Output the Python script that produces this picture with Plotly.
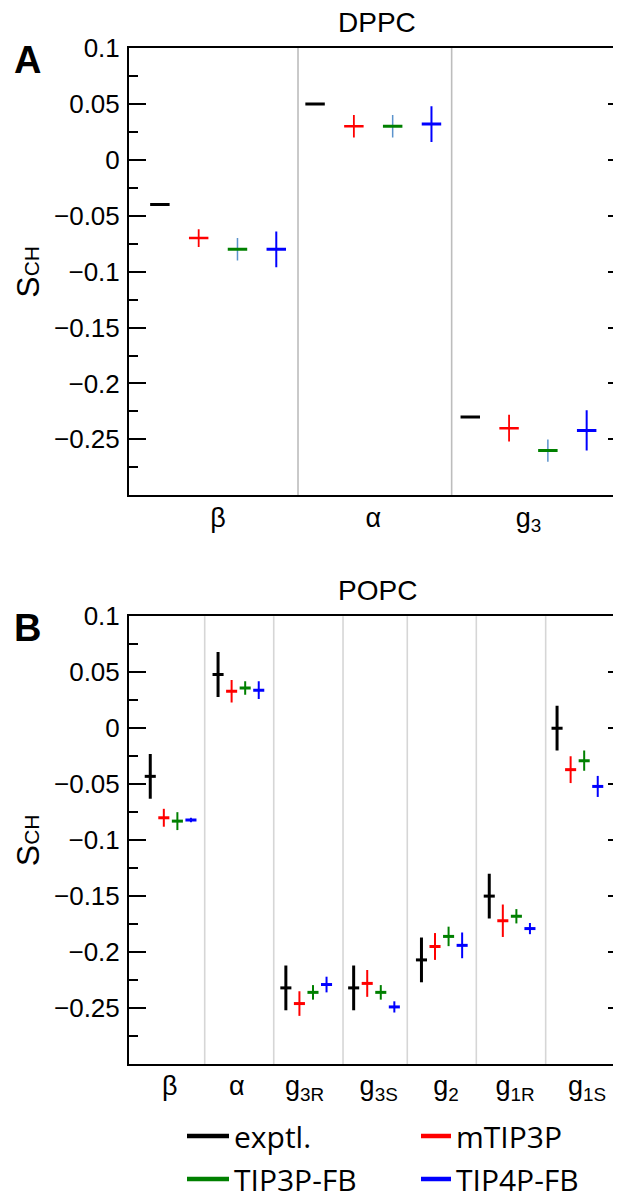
import plotly.graph_objects as go

# ---------------- data ----------------
series_names = ["exptl.", "mTIP3P", "TIP3P-FB", "TIP4P-FB"]
series_colors = ["#000000", "#ff0000", "#008000", "#0000ff"]

# Panel A: DPPC
cats_A = ["β", "α", "g<sub>3</sub>"]
exptl_A = [-0.040, 0.050, -0.230]
mtip3p_A = [-0.070, 0.030, -0.240]
mtip3p_A_err = [0.008, 0.010, 0.012]
tip3pfb_A = [-0.080, 0.030, -0.260]
tip3pfb_A_err = [0.010, 0.010, 0.010]
tip4pfb_A = [-0.080, 0.032, -0.242]
tip4pfb_A_err = [0.016, 0.016, 0.018]

# Panel B: POPC
cats_B = ["β", "α", "g<sub>3R</sub>", "g<sub>3S</sub>", "g<sub>2</sub>", "g<sub>1R</sub>", "g<sub>1S</sub>"]
exptl_B = [-0.043, 0.048, -0.232, -0.232, -0.207, -0.150, 0.000]
exptl_B_err = [0.020, 0.020, 0.020, 0.020, 0.020, 0.020, 0.020]
mtip3p_B = [-0.080, 0.033, -0.246, -0.228, -0.195, -0.172, -0.037]
mtip3p_B_err = [0.008, 0.010, 0.011, 0.012, 0.012, 0.0145, 0.012]
tip3pfb_B = [-0.083, 0.036, -0.236, -0.236, -0.186, -0.168, -0.029]
tip3pfb_B_err = [0.008, 0.006, 0.0065, 0.0065, 0.0087, 0.0064, 0.009]
tip4pfb_B = [-0.082, 0.034, -0.229, -0.249, -0.194, -0.179, -0.052]
tip4pfb_B_err = [0.002, 0.008, 0.007, 0.005, 0.0115, 0.005, 0.0094]

y_tickvals = [0.1, 0.05, 0, -0.05, -0.1, -0.15, -0.2, -0.25]
y_ticktext = ["0.1", "0.05", "0", "−0.05", "−0.1", "−0.15", "−0.2", "−0.25"]
y_minorvals = [0.075, 0.025, -0.025, -0.075, -0.125, -0.175, -0.225, -0.275]

# ---------------- layout helpers ----------------
slotsA = [0.125, 0.375, 0.625, 0.875]
slotsB = [0.2, 0.4, 0.6, 0.8]
sepA = [1.015, 2.005]
sepB = [1.003, 2.021, 3.043, 3.991, 5.009, 6.032]
labelposB = [0.487, 1.478, 2.476, 3.569, 4.562, 5.580, 6.642]

FONT = "Liberation Sans, Arial, sans-serif"
LEG_FONT = "Open Sans, sans-serif"

fig = go.Figure()


def add_series(xaxis, yaxis, idx, slot, vals, errs, color, size, lw, ethick, ecolor=None):
    xs = [i + slot for i in range(len(vals))]
    err = dict(visible=False)
    if errs is not None:
        err = dict(type="data", array=errs, visible=True, width=0,
                   thickness=ethick, color=ecolor or color)
    fig.add_trace(go.Scatter(
        x=xs, y=vals, mode="markers", xaxis=xaxis, yaxis=yaxis,
        marker=dict(symbol="line-ew", size=size, color=color,
                    line=dict(color=color, width=lw)),
        error_y=err, showlegend=False, hoverinfo="skip", name=series_names[idx]))


# Panel A
add_series("x", "y", 0, slotsA[0], exptl_A, None, series_colors[0], 13.9, 3, 2)
add_series("x", "y", 1, slotsA[1], mtip3p_A, mtip3p_A_err, series_colors[1], 13.9, 2.5, 1.8)
add_series("x", "y", 2, slotsA[2], tip3pfb_A, tip3pfb_A_err, series_colors[2], 13.9, 3, 1.5, "#5b93cc")
add_series("x", "y", 3, slotsA[3], tip4pfb_A, tip4pfb_A_err, series_colors[3], 13.9, 3, 2)

# Panel B
add_series("x2", "y2", 0, slotsB[0], exptl_B, exptl_B_err, series_colors[0], 7.9, 3, 3)
add_series("x2", "y2", 1, slotsB[1], mtip3p_B, mtip3p_B_err, series_colors[1], 7.9, 3, 2)
add_series("x2", "y2", 2, slotsB[2], tip3pfb_B, tip3pfb_B_err, series_colors[2], 7.9, 3, 2)
add_series("x2", "y2", 3, slotsB[3], tip4pfb_B, tip4pfb_B_err, series_colors[3], 7.9, 3, 2)

# legend-only traces (one legend box per entry for exact placement)
legend_ids = ["legend", "legend2", "legend3", "legend4"]
for k in range(4):
    fig.add_trace(go.Scatter(
        x=[None], y=[None], mode="lines", name=series_names[k],
        line=dict(color=series_colors[k], width=4.5),
        legend=legend_ids[k], showlegend=True, xaxis="x2", yaxis="y2"))

W, H = 621, 1200
ML, MR, MT, MB = 121, 4, 40, 144
PW = W - ML - MR
PH = H - MT - MB


def px_to_paper_x(px):
    return (px - ML) / PW


def py_to_paper_y(py):
    return (H - MB - py) / PH


yA = [py_to_paper_y(487.3), 1.0]
yB = [0.0, py_to_paper_y(608.3)]

yaxis_common = dict(
    range=[-0.3, 0.1], tickmode="array", tickvals=y_tickvals, ticktext=y_ticktext,
    ticks="inside", ticklen=17, tickwidth=2, tickcolor="black",
    showline=True, linewidth=2, linecolor="black", mirror="ticks",
    showgrid=False, zeroline=False,
    tickfont=dict(family=FONT, size=26, color="black"),
    ticklabelstandoff=2,
    minor=dict(tickmode="array", tickvals=y_minorvals, ticks="inside", ticklen=8.5,
               tickwidth=2, tickcolor="black", showgrid=False),
)
xaxis_common = dict(
    showline=True, linewidth=2, linecolor="black", mirror=True,
    showgrid=False, zeroline=False, ticks="", tickmode="array",
    tickfont=dict(family=FONT, size=27, color="black"),
    ticklabelstandoff=-3,
)

fig.update_layout(
    width=W, height=H,
    margin=dict(l=ML, r=MR, t=MT, b=MB, pad=0, autoexpand=False),
    paper_bgcolor="white", plot_bgcolor="white",
    font=dict(family=FONT, color="black"),
    xaxis=dict(xaxis_common, domain=[0, 1], anchor="y", range=[-0.074, 3.122],
               tickvals=[i + 0.5 for i in range(len(cats_A))], ticktext=cats_A),
    yaxis=dict(yaxis_common, domain=yA, anchor="x"),
    xaxis2=dict(xaxis_common, domain=[0, 1], anchor="y2", range=[-0.1136, 7.202],
                tickvals=labelposB, ticktext=cats_B),
    yaxis2=dict(yaxis_common, domain=yB, anchor="x2"),
)

# separators
shapes = []
for s in sepA:
    shapes.append(dict(type="line", xref="x", yref="y domain", x0=s, x1=s, y0=0, y1=1,
                       line=dict(color="#bdbdbd", width=1.6), layer="below"))
for s in sepB:
    shapes.append(dict(type="line", xref="x2", yref="y2 domain", x0=s, x1=s, y0=0, y1=1,
                       line=dict(color="#d6d6d6", width=1.6), layer="below"))
fig.update_layout(shapes=shapes)

# legends
leg_font = dict(family=LEG_FONT, size=30, color="black")
leg_pos = [(174, 1128), (408, 1128), (174, 1171), (408, 1171)]
for k, lid in enumerate(legend_ids):
    px, py = leg_pos[k]
    fig.update_layout({lid: dict(
        x=px_to_paper_x(px), y=py_to_paper_y(py), xref="paper", yref="paper",
        xanchor="left", yanchor="middle", orientation="h",
        font=leg_font, bgcolor="rgba(0,0,0,0)", borderwidth=0,
        itemwidth=42 if k in (0, 2) else 30, tracegroupgap=0)})

# annotations: titles, panel letters, axis titles
ann = []
ann.append(dict(text="DPPC", xref="x domain", yref="y domain", x=0.5, y=1,
                yshift=26, showarrow=False, xanchor="center", yanchor="middle",
                font=dict(family=FONT, size=28, color="black")))
ann.append(dict(text="POPC", xref="x2 domain", yref="y2 domain", x=0.5, y=1,
                yshift=26, showarrow=False, xanchor="center", yanchor="middle",
                font=dict(family=FONT, size=28, color="black")))
ann.append(dict(text="<b>A</b>", xref="paper", yref="paper",
                x=px_to_paper_x(19), y=py_to_paper_y(52), showarrow=False,
                xanchor="center", yanchor="middle",
                font=dict(family=FONT, size=38, color="black")))
ann.append(dict(text="<b>B</b>", xref="paper", yref="paper",
                x=px_to_paper_x(19), y=py_to_paper_y(620), showarrow=False,
                xanchor="center", yanchor="middle",
                font=dict(family=FONT, size=38, color="black")))
sch = 'S<span style="font-size:21px">CH</span>'
ann.append(dict(text=sch, xref="paper", yref="y domain", x=px_to_paper_x(0), y=0.5,
                showarrow=False, textangle=-90, xanchor="left", yanchor="middle",
                font=dict(family=FONT, size=32, color="black")))
ann.append(dict(text=sch, xref="paper", yref="y2 domain", x=px_to_paper_x(0), y=0.5,
                showarrow=False, textangle=-90, xanchor="left", yanchor="middle",
                font=dict(family=FONT, size=32, color="black")))
fig.update_layout(annotations=ann)

fig.write_html("out.html")
